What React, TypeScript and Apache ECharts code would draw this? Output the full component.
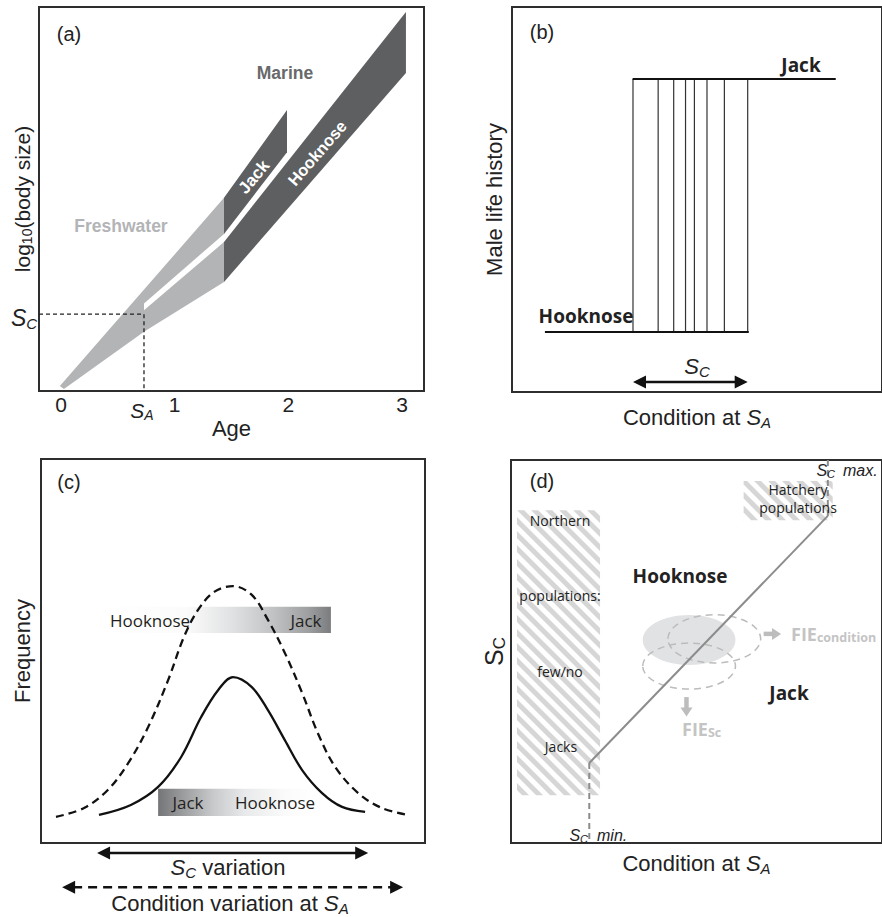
import React, { useEffect, useRef } from 'react';
import * as echarts from 'echarts';

const ARIAL = '"Liberation Sans", Arial, sans-serif';
const CAL = '"Open Sans", sans-serif';

// ---------------- Panel (a): body size vs age ----------------
const ageTickValues = [0, 1, 2, 3];
const freshwaterBand = [[-0.01, 1.3], [1.434, 50.3], [1.434, 28.4], [0.73, 15.4], [0.026, 0.5]];
const freshwaterGap = [[0.73, 22.8], [1.434, 40.9], [1.434, 38.8], [0.73, 21.0]];
const jackBand = [[1.434, 50.3], [1.988, 73.2], [1.988, 62.2], [1.434, 40.9]];
const hooknoseBand = [[1.434, 38.8], [3.034, 98.7], [3.034, 82.8], [1.434, 28.4]];
const thresholdAge = 0.73; // S_A
const thresholdSize = 20; // S_C

// ---------------- Panel (b): male life history vs condition ----------------
const jackLevel = 81.3;
const hooknoseLevel = 15.6;
const jackLineX = [32.6, 87.5];
const hooknoseLineX = [8.9, 64.0];
const thresholdConditions = [32.7, 39.5, 43.7, 46.9, 49.3, 52.7, 57.4, 63.7];
const scRangeB = [32.7, 63.7, 2.6];

// ---------------- Panel (c): frequency distributions ----------------
const conditionCurve = [
  [3.9, 6.8], [11.2, 9.1], [17.4, 13.8], [22.7, 20.8], [27.9, 30.2], [33.1, 42.4], [37.2, 53.6],
  [40.9, 60.7], [45.1, 65.4], [50.0, 66.9], [54.9, 64.6], [59.1, 58.1], [63.5, 49.5], [68.0, 39.1],
  [72.1, 28.6], [76.6, 19.8], [82.6, 13.0], [88.8, 9.1], [95.6, 7.3],
];
const scCurve = [
  [15.1, 7.3], [23.4, 9.9], [30.5, 14.6], [36.5, 22.4], [41.7, 32.8], [46.1, 39.8], [50.0, 43.2],
  [54.9, 40.6], [59.1, 34.6], [63.5, 26.8], [68.0, 19.0], [73.2, 13.0], [78.4, 9.4], [84.4, 8.1],
];
const upperBar = [16.7, 54.7, 75.5, 61.5];
const lowerBar = [30.5, 7.0, 71.4, 14.1];
const scVariationRange = [14.6, 85.2, -2.6];
const conditionVariationRange = [5.5, 94.3, -11.5];

// ---------------- Panel (d): S_C vs condition ----------------
const reactionNorm = [[21.1, 20.9], [85.4, 85.4]];
const scMinLine = [[21.1, 20.9], [21.1, 0]];
const scMaxLine = [[85.4, 85.4], [85.4, 100]];
const northernRect = [1.6, 12.5, 24.0, 86.9];
const hatcheryRect = [62.7, 84.3, 86.7, 94.5];
const baseDistribution = [48.0, 53.0, 12.5, 6.5];
const shiftedDistributions = [[54.8, 53.3, 12.5, 6.3], [48.0, 46.2, 12.5, 6.0]];
const fieArrows = [[68.1, 54.6, 72.8, 54.6], [47.3, 38.1, 47.3, 33.0]];

// ---------------- helpers ----------------
type Pt = number[];
function clipHalf(poly: Pt[], f: (p: Pt) => number): Pt[] {
  const out: Pt[] = [];
  const n = poly.length;
  for (let i = 0; i < n; i++) {
    const a = poly[i];
    const b = poly[(i + 1) % n];
    const fa = f(a);
    const fb = f(b);
    if (fa >= 0) out.push(a);
    if ((fa >= 0) !== (fb >= 0)) {
      const t = fa / (fa - fb);
      out.push([a[0] + (b[0] - a[0]) * t, a[1] + (b[1] - a[1]) * t]);
    }
  }
  return out;
}

function head(tip: Pt, dir: Pt, len: number, half: number): Pt[] {
  const bx = tip[0] - dir[0] * len;
  const by = tip[1] - dir[1] * len;
  return [
    [tip[0], tip[1]],
    [bx - dir[1] * half, by + dir[0] * half],
    [bx + dir[1] * half, by - dir[0] * half],
  ];
}

function rich(size: number, sub: number, color = '#222', weight: any = 'normal', family = ARIAL) {
  const base = { fontFamily: family, color, fill: color, fontWeight: weight };
  return {
    m: { ...base, fontSize: size, lineHeight: size + 3 },
    i: { ...base, fontSize: size, lineHeight: size + 3, fontStyle: 'italic' },
    si: { ...base, fontSize: sub, lineHeight: sub, fontStyle: 'italic', verticalAlign: 'bottom' },
    sn: { ...base, fontSize: sub, lineHeight: sub, verticalAlign: 'bottom' },
  };
}

function txt(x: number, y: number, text: string, o: any = {}) {
  const align = o.align || 'center';
  const va = o.va || 'middle';
  return {
    type: 'text',
    x,
    y,
    rotation: o.rotation || 0,
    silent: true,
    z: 50,
    style: {
      text,
      fontFamily: o.family || ARIAL,
      fontSize: o.size || 20,
      fontWeight: o.weight || 'normal',
      fontStyle: o.style || 'normal',
      fill: o.color || '#222',
      align,
      verticalAlign: va,
      textAlign: align,
      textVerticalAlign: va,
      rich: o.rich,
    },
  };
}

const hiddenAxis = {
  type: 'value',
  axisLine: { show: false },
  axisTick: { show: false },
  axisLabel: { show: false },
  splitLine: { show: false },
};

function buildOption() {
  const gridStyle = { show: true, borderColor: '#2e2e2e', borderWidth: 2, backgroundColor: 'transparent' };

  const polysA = [
    { pts: freshwaterBand, fill: '#b3b4b6' },
    { pts: jackBand, fill: '#5e5f61' },
    { pts: hooknoseBand, fill: '#5e5f61' },
    { pts: freshwaterGap, fill: '#ffffff' },
  ];

  const doubleArrow = (dashed: boolean) => (params: any, api: any) => {
    const p0 = api.coord([api.value(0), api.value(2)]);
    const p1 = api.coord([api.value(1), api.value(2)]);
    const L = 13;
    const H = 6.5;
    return {
      type: 'group',
      children: [
        {
          type: 'line',
          shape: { x1: p0[0] + L - 2, y1: p0[1], x2: p1[0] - L + 2, y2: p1[1] },
          style: { stroke: '#111', lineWidth: 2.5, lineDash: dashed ? [9, 6] : null },
        },
        { type: 'polygon', shape: { points: head(p0, [-1, 0], L, H) }, style: { fill: '#111' } },
        { type: 'polygon', shape: { points: head(p1, [1, 0], L, H) }, style: { fill: '#111' } },
      ],
    };
  };

  const gradientBar = (stops: any[]) => (params: any, api: any) => {
    const a = api.coord([api.value(0), api.value(3)]);
    const b = api.coord([api.value(2), api.value(1)]);
    return {
      type: 'rect',
      shape: { x: a[0], y: a[1], width: b[0] - a[0], height: b[1] - a[1] },
      style: { fill: new echarts.graphic.LinearGradient(0, 0, 1, 0, stops) },
    };
  };

  const series: any[] = [
    // ---- (a)
    {
      type: 'custom',
      xAxisIndex: 0,
      yAxisIndex: 0,
      silent: true,
      data: polysA.map((_, i) => [i, 0]),
      renderItem: (params: any, api: any) => {
        const p = polysA[params.dataIndex];
        return {
          type: 'polygon',
          shape: { points: p.pts.map((pt) => api.coord(pt)) },
          style: { fill: p.fill },
        };
      },
      z: 2,
    },
    {
      type: 'line',
      xAxisIndex: 0,
      yAxisIndex: 0,
      silent: true,
      symbol: 'none',
      data: [[-0.1935, thresholdSize], [thresholdAge, thresholdSize], [thresholdAge, 0]],
      lineStyle: { color: '#222', width: 1.3, type: [4, 3] },
      z: 3,
    },
    // ---- (b)
    {
      type: 'line',
      xAxisIndex: 1,
      yAxisIndex: 1,
      silent: true,
      symbol: 'none',
      data: jackLineX.map((x) => [x, jackLevel]),
      lineStyle: { color: '#111', width: 2 },
    },
    {
      type: 'line',
      xAxisIndex: 1,
      yAxisIndex: 1,
      silent: true,
      symbol: 'none',
      data: hooknoseLineX.map((x) => [x, hooknoseLevel]),
      lineStyle: { color: '#111', width: 2 },
    },
    {
      type: 'custom',
      xAxisIndex: 1,
      yAxisIndex: 1,
      silent: true,
      data: thresholdConditions.map((x) => [x, jackLevel]),
      renderItem: (params: any, api: any) => {
        const top = api.coord([api.value(0), jackLevel]);
        const bot = api.coord([api.value(0), hooknoseLevel]);
        return {
          type: 'line',
          shape: { x1: top[0], y1: top[1], x2: bot[0], y2: bot[1] },
          style: { stroke: '#333', lineWidth: 1.2 },
        };
      },
    },
    {
      type: 'custom',
      xAxisIndex: 1,
      yAxisIndex: 1,
      silent: true,
      data: [scRangeB],
      renderItem: doubleArrow(false),
    },
    // ---- (c)
    {
      type: 'custom',
      xAxisIndex: 2,
      yAxisIndex: 2,
      silent: true,
      data: [upperBar],
      renderItem: gradientBar([
        { offset: 0, color: '#ffffff' },
        { offset: 0.36, color: '#fbfbfb' },
        { offset: 0.55, color: '#e2e3e4' },
        { offset: 0.75, color: '#c0c1c3' },
        { offset: 0.9, color: '#9e9fa1' },
        { offset: 1, color: '#7b7c7e' },
      ]),
      z: 1,
    },
    {
      type: 'custom',
      xAxisIndex: 2,
      yAxisIndex: 2,
      silent: true,
      data: [lowerBar],
      renderItem: gradientBar([
        { offset: 0, color: '#747577' },
        { offset: 0.15, color: '#999a9c' },
        { offset: 0.35, color: '#c8c9cb' },
        { offset: 0.55, color: '#e8e9ea' },
        { offset: 0.8, color: '#fafafa' },
        { offset: 1, color: '#ffffff' },
      ]),
      z: 1,
    },
    {
      type: 'line',
      xAxisIndex: 2,
      yAxisIndex: 2,
      silent: true,
      symbol: 'none',
      smooth: 0.35,
      data: conditionCurve,
      lineStyle: { color: '#111', width: 2.3, type: [8, 5] },
      z: 5,
    },
    {
      type: 'line',
      xAxisIndex: 2,
      yAxisIndex: 2,
      silent: true,
      symbol: 'none',
      smooth: 0.35,
      data: scCurve,
      lineStyle: { color: '#111', width: 2.3 },
      z: 5,
    },
    {
      type: 'custom',
      xAxisIndex: 2,
      yAxisIndex: 2,
      silent: true,
      data: [scVariationRange],
      renderItem: doubleArrow(false),
    },
    {
      type: 'custom',
      xAxisIndex: 2,
      yAxisIndex: 2,
      silent: true,
      data: [conditionVariationRange],
      renderItem: doubleArrow(true),
    },
    // ---- (d)
    {
      type: 'custom',
      xAxisIndex: 3,
      yAxisIndex: 3,
      silent: true,
      data: [northernRect, hatcheryRect],
      renderItem: (params: any, api: any) => {
        const a = api.coord([api.value(0), api.value(3)]);
        const b = api.coord([api.value(2), api.value(1)]);
        const L = a[0];
        const T = a[1];
        const Rr = b[0];
        const B = b[1];
        const rect = [[L, T], [Rr, T], [Rr, B], [L, B]];
        const period = 14;
        const thick = 7;
        const children: any[] = [];
        const cStart = Math.floor((T - Rr) / period) * period - period;
        for (let c = cStart; c <= B - L; c += period) {
          let poly = clipHalf(rect, (p) => p[1] - p[0] - c);
          poly = clipHalf(poly, (p) => c + thick - (p[1] - p[0]));
          if (poly.length >= 3) {
            children.push({ type: 'polygon', shape: { points: poly }, style: { fill: '#d6d6d6' } });
          }
        }
        return { type: 'group', children };
      },
      z: 1,
    },
    {
      type: 'custom',
      xAxisIndex: 3,
      yAxisIndex: 3,
      silent: true,
      data: [baseDistribution],
      renderItem: (params: any, api: any) => {
        const c = api.coord([api.value(0), api.value(1)]);
        const s = api.size([api.value(2), api.value(3)]);
        return { type: 'ellipse', shape: { cx: c[0], cy: c[1], rx: s[0], ry: s[1] }, style: { fill: '#e1e2e3' } };
      },
      z: 2,
    },
    {
      type: 'custom',
      xAxisIndex: 3,
      yAxisIndex: 3,
      silent: true,
      data: shiftedDistributions,
      renderItem: (params: any, api: any) => {
        const c = api.coord([api.value(0), api.value(1)]);
        const s = api.size([api.value(2), api.value(3)]);
        return {
          type: 'ellipse',
          shape: { cx: c[0], cy: c[1], rx: s[0], ry: s[1] },
          style: { fill: 'none', stroke: '#bcbcbc', lineWidth: 1.5, lineDash: [7, 5] },
        };
      },
      z: 3,
    },
    {
      type: 'line',
      xAxisIndex: 3,
      yAxisIndex: 3,
      silent: true,
      symbol: 'none',
      data: reactionNorm,
      lineStyle: { color: '#8c8c8c', width: 2 },
      z: 4,
    },
    {
      type: 'line',
      xAxisIndex: 3,
      yAxisIndex: 3,
      silent: true,
      symbol: 'none',
      data: scMinLine,
      lineStyle: { color: '#8c8c8c', width: 2, type: [6, 4] },
      z: 4,
    },
    {
      type: 'line',
      xAxisIndex: 3,
      yAxisIndex: 3,
      silent: true,
      symbol: 'none',
      data: scMaxLine,
      lineStyle: { color: '#8c8c8c', width: 2, type: [6, 4] },
      z: 4,
    },
    {
      type: 'custom',
      xAxisIndex: 3,
      yAxisIndex: 3,
      silent: true,
      data: fieArrows,
      renderItem: (params: any, api: any) => {
        const p0 = api.coord([api.value(0), api.value(1)]);
        const p1 = api.coord([api.value(2), api.value(3)]);
        const dx = p1[0] - p0[0];
        const dy = p1[1] - p0[1];
        const len = Math.sqrt(dx * dx + dy * dy);
        const dir = [dx / len, dy / len];
        const hl = 9;
        return {
          type: 'group',
          children: [
            {
              type: 'line',
              shape: { x1: p0[0], y1: p0[1], x2: p1[0] - dir[0] * (hl - 1), y2: p1[1] - dir[1] * (hl - 1) },
              style: { stroke: '#bdbdbd', lineWidth: 4.5 },
            },
            { type: 'polygon', shape: { points: head(p1, dir, hl, 6) }, style: { fill: '#bdbdbd' } },
          ],
        };
      },
      z: 4,
    },
  ];

  const axisNameStyle = (size: number, sub: number) => ({
    fontFamily: ARIAL,
    fontSize: size,
    color: '#222',
    lineHeight: size + 3,
    rich: rich(size, sub),
  });

  const xAxis = [
    {
      ...hiddenAxis,
      gridIndex: 0,
      min: -0.1935,
      max: 3.193,
      axisLabel: { show: true, customValues: ageTickValues, fontSize: 21, color: '#222', fontFamily: ARIAL, margin: 3 },
      name: 'Age',
      nameLocation: 'middle',
      nameGap: 17,
      nameTextStyle: axisNameStyle(22, 14),
    },
    {
      ...hiddenAxis,
      gridIndex: 1,
      min: 0,
      max: 100,
      name: '{m|Condition at }{i|S}{si|A}',
      nameLocation: 'middle',
      nameGap: 13,
      nameTextStyle: axisNameStyle(22, 15),
    },
    { ...hiddenAxis, gridIndex: 2, min: 0, max: 100 },
    {
      ...hiddenAxis,
      gridIndex: 3,
      min: 0,
      max: 100,
      name: '{m|Condition at }{i|S}{si|A}',
      nameLocation: 'middle',
      nameGap: 8,
      nameTextStyle: axisNameStyle(22, 15),
    },
  ];

  const yAxis = [
    {
      ...hiddenAxis,
      gridIndex: 0,
      min: 0,
      max: 100,
      name: '{m|log}{sn|10}{m|(body size)}',
      nameLocation: 'middle',
      nameGap: 5,
      nameTextStyle: axisNameStyle(21, 14),
    },
    {
      ...hiddenAxis,
      gridIndex: 1,
      min: 0,
      max: 100,
      name: 'Male life history',
      nameLocation: 'middle',
      nameGap: 5,
      nameTextStyle: axisNameStyle(22, 14),
    },
    {
      ...hiddenAxis,
      gridIndex: 2,
      min: 0,
      max: 100,
      name: 'Frequency',
      nameLocation: 'middle',
      nameGap: 6,
      nameTextStyle: axisNameStyle(22, 14),
    },
    {
      ...hiddenAxis,
      gridIndex: 3,
      min: 0,
      max: 100,
      name: '{m|S}{sn|C}',
      nameLocation: 'middle',
      nameGap: 3,
      nameTextStyle: axisNameStyle(25, 17),
    },
  ];

  const fieRich = {
    b: { fontFamily: CAL, fontSize: 18, fontWeight: 'bold', fill: '#c4c4c4', color: '#c4c4c4', lineHeight: 20 },
    s: { fontFamily: CAL, fontSize: 12.5, fontWeight: 'bold', fill: '#c4c4c4', color: '#c4c4c4', lineHeight: 13, verticalAlign: 'bottom' },
  };

  const graphic = [
    // (a)
    txt(69, 34, '(a)', { size: 20 }),
    txt(285, 73, 'Marine', { size: 17.5, weight: 'bold', color: '#68696b' }),
    txt(121, 226, 'Freshwater', { size: 17.5, weight: 'bold', color: '#b3b4b6' }),
    txt(254, 177, 'Jack', { size: 17, weight: 'bold', color: '#ffffff', rotation: (50 * Math.PI) / 180 }),
    txt(317, 153, 'Hooknose', { size: 16.5, weight: 'bold', color: '#ffffff', rotation: (49 * Math.PI) / 180 }),
    txt(11, 318, '{i|S}{si|C}', { align: 'left', rich: rich(23, 15) }),
    txt(142, 410, '{i|S}{si|A}', { rich: rich(21, 14) }),
    // (b)
    txt(542, 32, '(b)', { size: 20 }),
    txt(801, 65, 'Jack', { family: CAL, size: 19, weight: 'bold', color: '#222' }),
    txt(586, 316, 'Hooknose', { family: CAL, size: 19, weight: 'bold', color: '#222' }),
    txt(697, 366, '{i|S}{si|C}', { rich: rich(22, 15) }),
    // (c)
    txt(69, 482, '(c)', { size: 20 }),
    txt(150, 620, 'Hooknose', { family: CAL, size: 17, color: '#231f20' }),
    txt(306, 620, 'Jack', { family: CAL, size: 17, color: '#231f20' }),
    txt(188, 802, 'Jack', { family: CAL, size: 17, color: '#231f20' }),
    txt(275, 802, 'Hooknose', { family: CAL, size: 17, color: '#231f20' }),
    txt(228, 867, '{i|S}{si|C}{m| variation}', { rich: rich(22, 15) }),
    txt(230, 903, '{m|Condition variation at }{i|S}{si|A}', { rich: rich(22, 15) }),
    // (d)
    txt(542, 481, '(d)', { size: 20 }),
    txt(560, 520, 'Northern', { family: CAL, size: 14, color: '#222' }),
    txt(560, 595, 'populations:', { family: CAL, size: 14, color: '#222' }),
    txt(560, 671, 'few/no', { family: CAL, size: 14, color: '#222' }),
    txt(561, 746, 'Jacks', { family: CAL, size: 14, color: '#222' }),
    txt(798, 489, 'Hatchery', { family: CAL, size: 14, color: '#222' }),
    txt(798, 507, 'populations', { family: CAL, size: 14, color: '#222' }),
    txt(680, 576, 'Hooknose', { family: CAL, size: 19, weight: 'bold', color: '#222' }),
    txt(789, 693, 'Jack', { family: CAL, size: 19, weight: 'bold', color: '#222' }),
    txt(835, 470, '{i|S}{si|C}', { align: 'right', rich: rich(16, 11) }),
    txt(843, 470, 'max.', { align: 'left', size: 16, style: 'italic' }),
    txt(588, 835, '{i|S}{si|C}', { align: 'right', rich: rich(16, 11) }),
    txt(597, 835, 'min.', { align: 'left', size: 16, style: 'italic' }),
    txt(791, 634, '{b|FIE}{s|condition}', { align: 'left', rich: fieRich }),
    txt(682, 729, '{b|FIE}{s|Sc}', { align: 'left', rich: fieRich }),
  ];

  return {
    animation: false,
    backgroundColor: '#ffffff',
    grid: [
      { ...gridStyle, left: 39, top: 7, width: 385, height: 384 },
      { ...gridStyle, left: 512, top: 7, width: 383, height: 385 },
      { ...gridStyle, left: 41, top: 459, width: 384, height: 384 },
      { ...gridStyle, left: 511, top: 460, width: 383, height: 383 },
    ],
    xAxis,
    yAxis,
    series,
    graphic,
  };
}

export default function App() {
  const ref = useRef<HTMLDivElement>(null);
  useEffect(() => {
    if (!ref.current) return;
    const chart = echarts.init(ref.current, undefined, { renderer: 'svg' });
    chart.setOption(buildOption() as any);
    return () => chart.dispose();
  }, []);
  return (
    <div
      ref={ref}
      style={{ position: 'fixed', left: 0, top: 0, width: 882, height: 917, background: '#ffffff' }}
    />
  );
}
